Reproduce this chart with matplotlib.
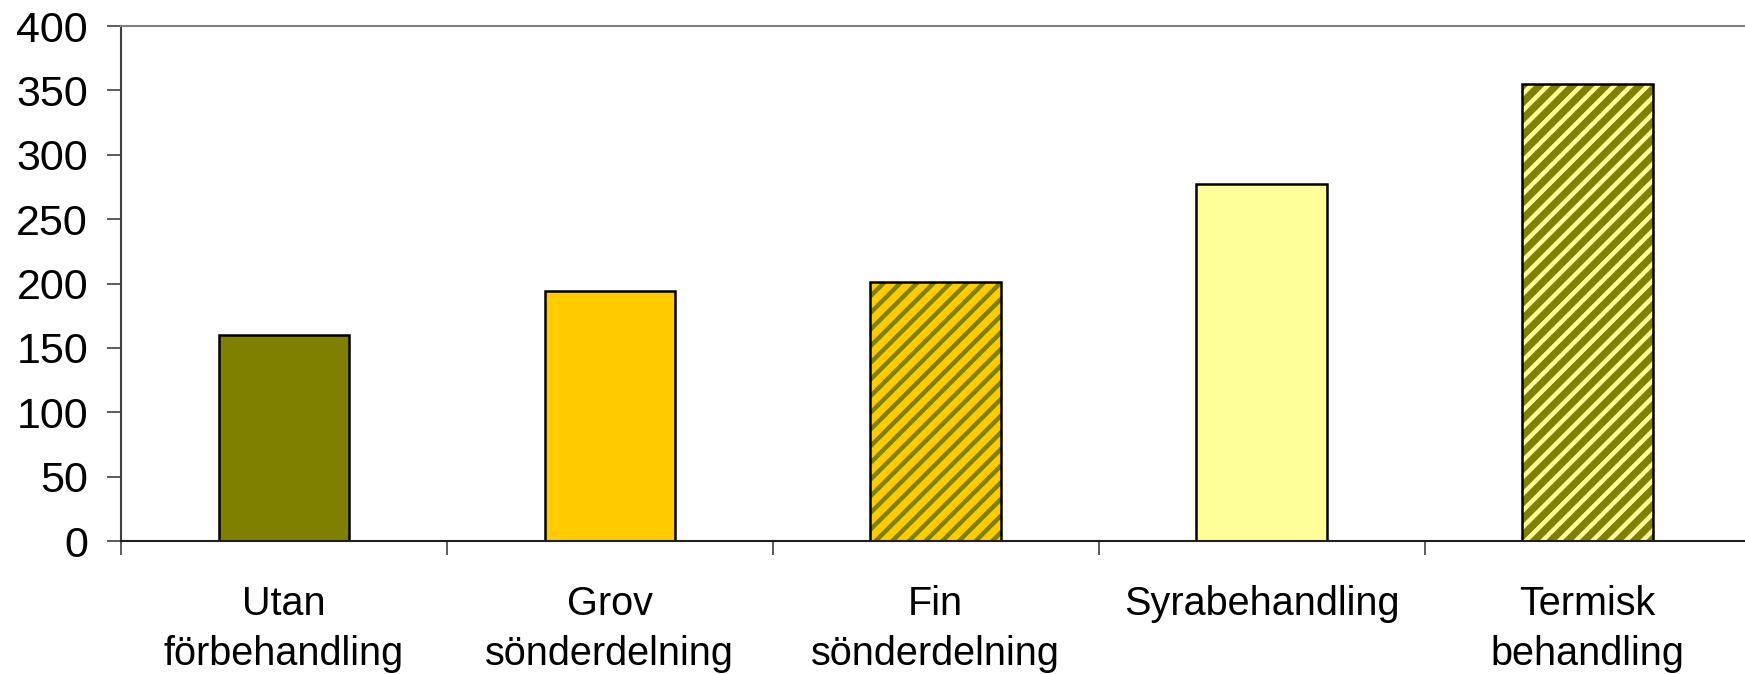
import matplotlib.pyplot as plt
import numpy as np

plt.rcParams['font.family'] = ['Liberation Sans', 'DejaVu Sans']
plt.rcParams['hatch.linewidth'] = 3.2

# Data
categories = ['Utan\nförbehandling', 'Grov\nsönderdelning', 'Fin\nsönderdelning',
              'Syrabehandling', 'Termisk\nbehandling']
values = [160, 194, 201, 277, 355]
face_colors = ['#808000', '#FFCC00', '#FFCC00', '#FFFF99', '#808000']
hatch_colors = [None, None, '#808000', None, '#FFFF99']

fig = plt.figure(figsize=(17.45, 6.74), dpi=100)
ax = fig.add_axes([0.0692, 0.1973, 0.934, 0.7641])

x = np.arange(len(categories))
for i in range(len(categories)):
    if hatch_colors[i] is not None:
        ax.bar(x[i], values[i], width=0.4, color=face_colors[i],
               edgecolor=hatch_colors[i], hatch='//', linewidth=0, zorder=2)
        ax.bar(x[i], values[i], width=0.4, fill=False,
               edgecolor='black', linewidth=1.8, zorder=3)
    else:
        ax.bar(x[i], values[i], width=0.4, color=face_colors[i],
               edgecolor='black', linewidth=1.8, zorder=2)

ax.set_xlim(-0.5, 4.5)
ax.set_ylim(0, 400)
ax.set_yticks(range(0, 401, 50))
ax.set_xticks(x)
ax.set_xticklabels(categories, fontsize=28.5, linespacing=1.4, va='top')
ax.set_xticks(np.arange(-0.5, 4.6, 1), minor=True)
ax.tick_params(axis='x', which='major', length=0, pad=32)
ax.tick_params(axis='x', which='minor', length=10, width=1.2, color='#404040')
ax.tick_params(axis='y', labelsize=31, length=10, width=1.2, color='#404040', pad=13.5)

ax.spines['top'].set_color('#808080')
ax.spines['top'].set_linewidth(1.5)
ax.spines['right'].set_visible(False)
ax.spines['left'].set_color('#404040')
ax.spines['left'].set_linewidth(1.5)
ax.spines['bottom'].set_color('#202020')
ax.spines['bottom'].set_linewidth(1.5)
ax.spines['bottom'].set_zorder(4)

fig.savefig('out.png', dpi=100)
